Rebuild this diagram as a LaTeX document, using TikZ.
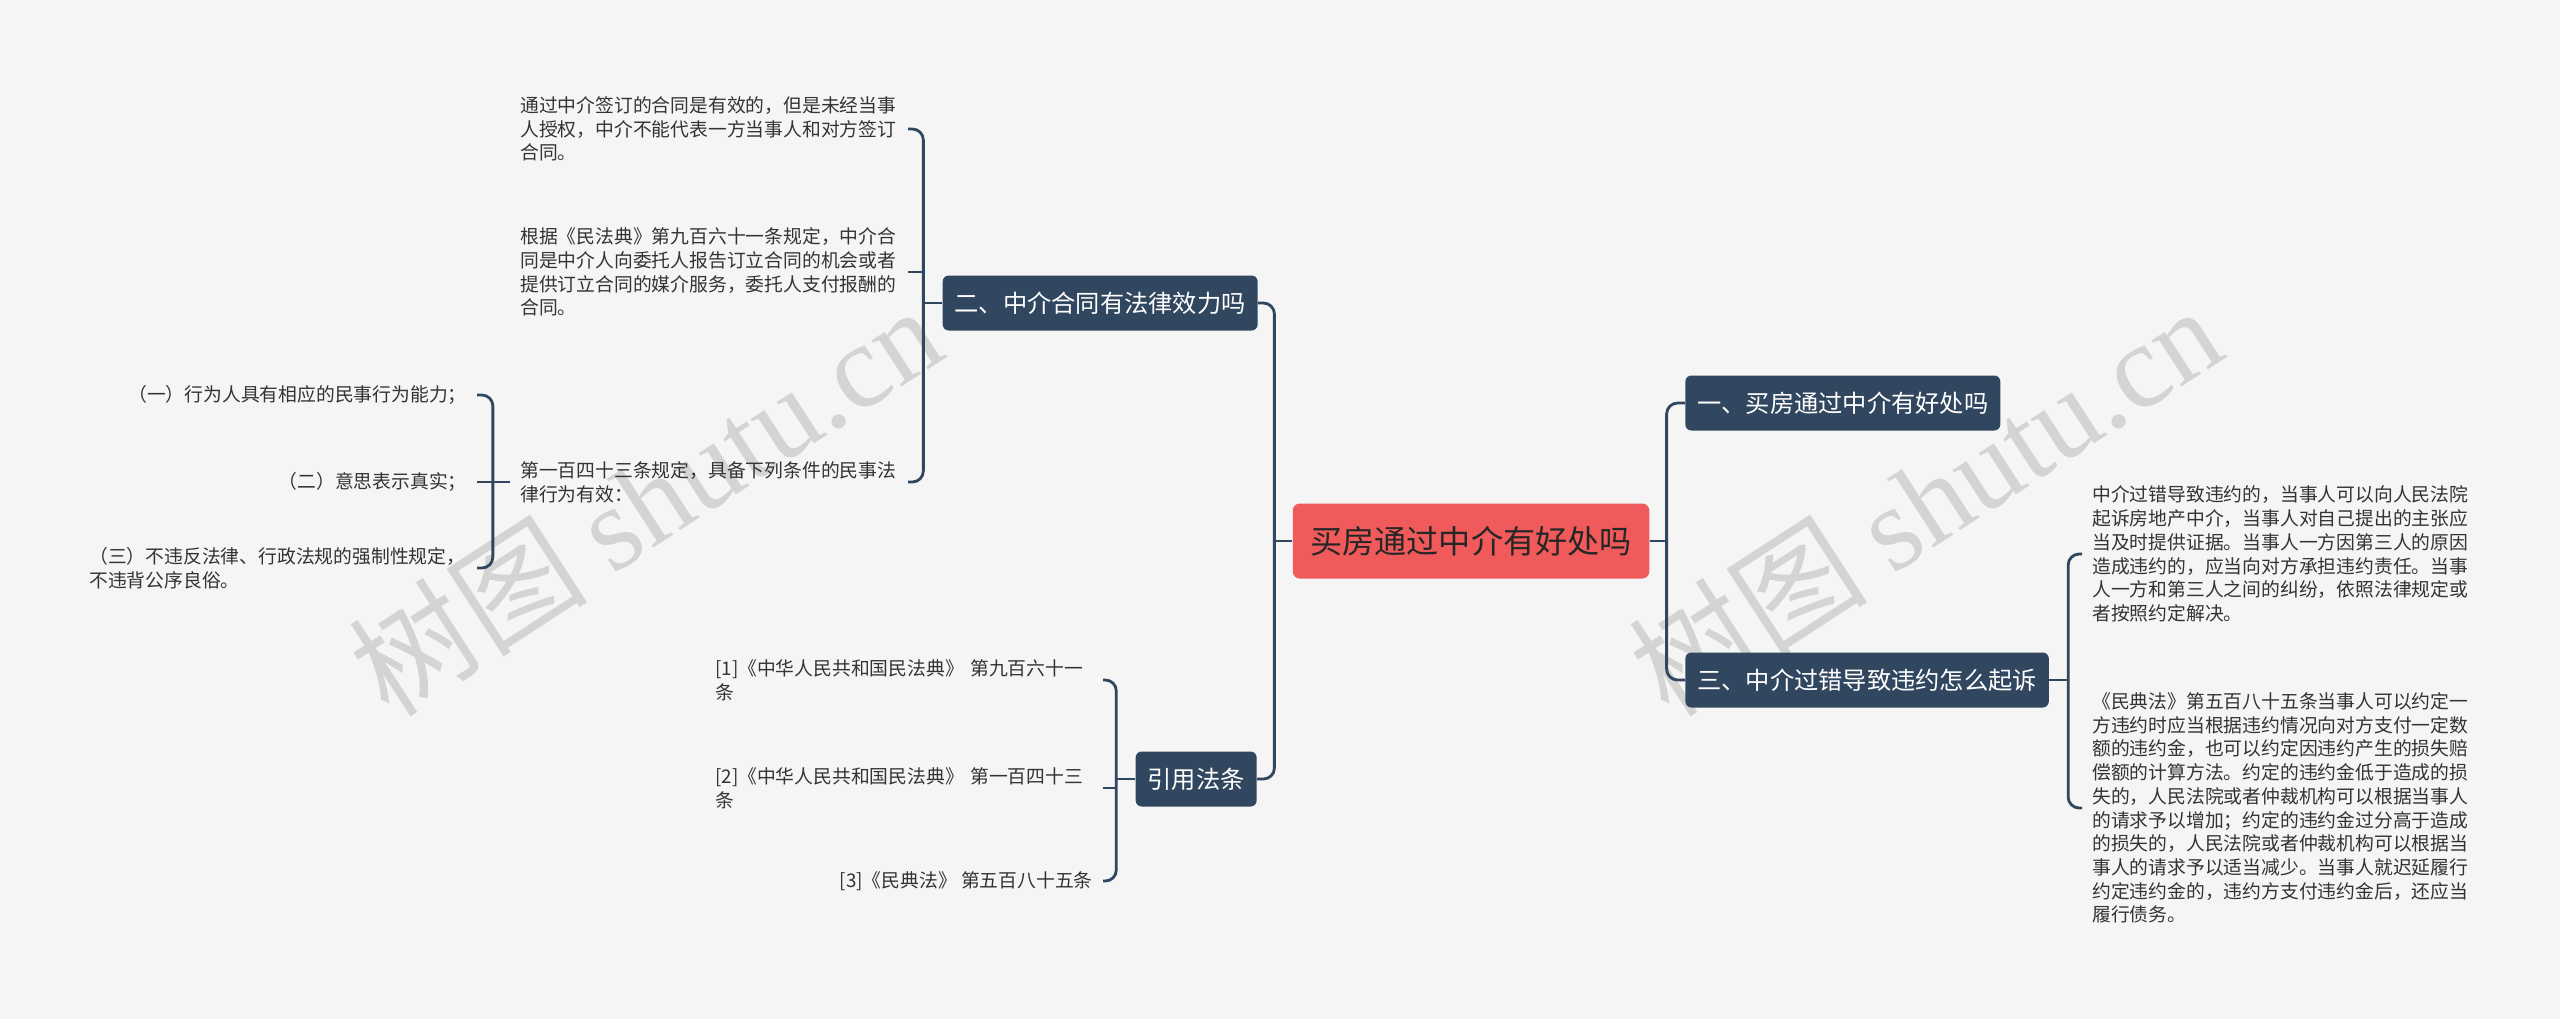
\documentclass[tikz,border=0pt]{standalone}
\usepackage{fontspec}
\setmainfont{Noto Sans CJK SC}
\newfontfamily\wmserif{Liberation Serif}
\usetikzlibrary{positioning}
\definecolor{topicblue}{HTML}{31475F}
\definecolor{rootred}{HTML}{F05A5A}
\definecolor{leaftext}{HTML}{333333}
\definecolor{paper}{HTML}{F5F5F5}
\definecolor{wmgray}{HTML}{D4D4D4}

\begin{document}
\begin{tikzpicture}[x=0.02cm,y=-0.02cm,
    root/.style={rectangle,rounded corners=0.14cm,fill=rootred,text=black!85,font=\fontsize{18.3}{22}\selectfont,inner xsep=0.35cm,minimum height=1.5cm},
    topic/.style={rectangle,rounded corners=0.12cm,fill=topicblue,text=white,font=\fontsize{13.8}{16}\selectfont,inner xsep=0.24cm,minimum height=1.1cm},
    leaf/.style={text=leaftext,font=\fontsize{10.7}{13.5}\selectfont,inner xsep=0.2cm,inner ysep=0.1cm},
    para/.style={leaf,text width=7.55cm,align=left},
    link/.style={draw=topicblue,line width=1.6pt,rounded corners=0.22cm},
    wmark/.style={text=wmgray,rotate=33,font=\fontsize{68}{68}\selectfont}]
    \useasboundingbox (0,0) rectangle (2560,1019);
    \fill[paper] (0,0) rectangle (2560,1019);

    \node[wmark] (wm1) at (645,500) {树图 {\wmserif shutu.cn}};
    \node[wmark] (wm2) at (1925,500) {树图 {\wmserif shutu.cn}};

    \node[root] (buy) at (1471,541) {买房通过中介有好处吗};
    \node[topic,anchor=east] (valid) at (1258,303) {二、中介合同有法律效力吗};
    \node[topic,anchor=east] (cite) at (1257,779) {引用法条};
    \node[topic,anchor=west] (gain) at (1685,403) {一、买房通过中介有好处吗};
    \node[topic,anchor=west] (sue) at (1685,680) {三、中介过错导致违约怎么起诉};

    \node[para,anchor=east] (val1) at (908,129) {通过中介签订的合同是有效的，但是未经当事\\人授权，中介不能代表一方当事人和对方签订\\合同。};
    \node[para,anchor=east] (val2) at (908,272) {根据《民法典》第九百六十一条规定，中介合\\同是中介人向委托人报告订立合同的机会或者\\提供订立合同的媒介服务，委托人支付报酬的\\合同。};
    \node[para,anchor=east] (val3) at (908,482) {第一百四十三条规定，具备下列条件的民事法\\律行为有效：};

    \node[leaf,anchor=east] (cond1) at (477,395) {（一）行为人具有相应的民事行为能力；};
    \node[leaf,anchor=east] (cond2) at (477,482) {（二）意思表示真实；};
    \node[para,anchor=east] (cond3) at (477,568) {（三）不违反法律、行政法规的强制性规定，\\不违背公序良俗。};

    \node[para,anchor=east] (ref1) at (1103,680) {[1]《中华人民共和国民法典》 第九百六十一\\条};
    \node[para,anchor=east] (ref2) at (1103,788) {[2]《中华人民共和国民法典》 第一百四十三\\条};
    \node[leaf,anchor=east] (ref3) at (1103,881) {[3]《民典法》 第五百八十五条};

    \node[para,anchor=west] (sue1) at (2082,554) {中介过错导致违约的，当事人可以向人民法院\\起诉房地产中介，当事人对自己提出的主张应\\当及时提供证据。当事人一方因第三人的原因\\造成违约的，应当向对方承担违约责任。当事\\人一方和第三人之间的纠纷，依照法律规定或\\者按照约定解决。};
    \node[para,anchor=west] (sue2) at (2082,808) {《民典法》第五百八十五条当事人可以约定一\\方违约时应当根据违约情况向对方支付一定数\\额的违约金，也可以约定因违约产生的损失赔\\偿额的计算方法。约定的违约金低于造成的损\\失的，人民法院或者仲裁机构可以根据当事人\\的请求予以增加；约定的违约金过分高于造成\\的损失的，人民法院或者仲裁机构可以根据当\\事人的请求予以适当减少。当事人就迟延履行\\约定违约金的，违约方支付违约金后，还应当\\履行债务。};

    \draw[link] (buy.west) -- ++(-18,0) coordinate (jbl);
    \draw[link] (jbl) |- (valid.east);
    \draw[link] (jbl) |- (cite.east);
    \draw[link] (buy.east) -- ++(17,0) coordinate (jbr);
    \draw[link] (jbr) |- (gain.west);
    \draw[link] (jbr) |- (sue.west);

    \draw[link] (sue.east) -- ++(19,0) coordinate (jsue);
    \draw[link] (jsue) |- (sue1.west);
    \draw[link] (jsue) |- (sue2.west);

    \draw[link] (valid.west) -- ++(-19,0) coordinate (jval);
    \draw[link] (jval) |- (val1.east);
    \draw[link] (val2.east) -- (val2.east -| jval);
    \draw[link] (jval) |- (val3.east);

    \draw[link] (val3.west) -- ++(-17,0) coordinate (jcond);
    \draw[link] (jcond) |- (cond1.east);
    \draw[link] (cond2.east) -- (cond2.east -| jcond);
    \draw[link] (jcond) |- (cond3.east);

    \draw[link] (cite.west) -- ++(-19,0) coordinate (jcite);
    \draw[link] (jcite) |- (ref1.east);
    \draw[link] (ref2.east) -- (ref2.east -| jcite);
    \draw[link] (jcite) |- (ref3.east);

\end{tikzpicture}
\end{document}
